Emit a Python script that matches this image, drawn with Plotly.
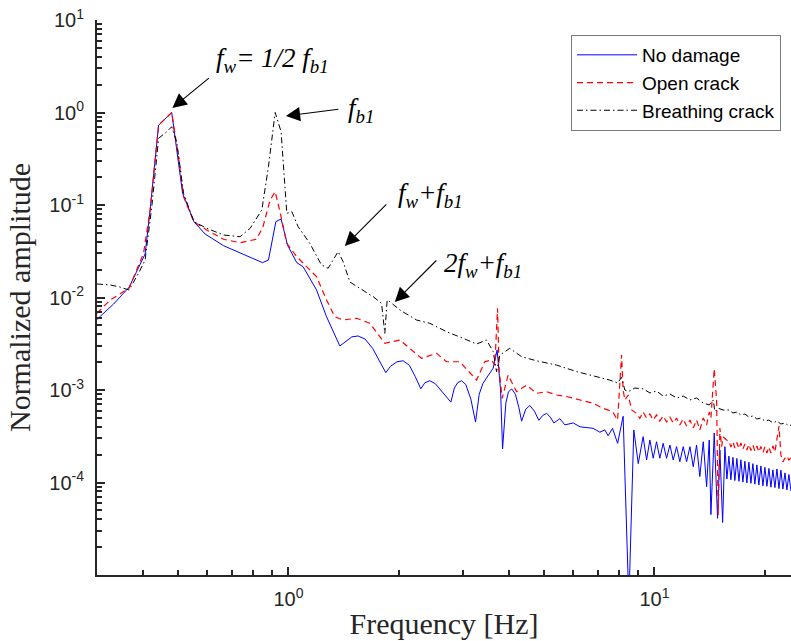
import math
import plotly.graph_objects as go

# ---------------- data ----------------
blue_freq = [0.300, 0.333, 0.367, 0.406, 0.419, 0.442, 0.480, 0.496, 0.514, 0.552, 0.592, 0.665, 0.754, 0.850,
             0.882, 0.924, 0.955, 0.994, 1.054, 1.097, 1.193, 1.271, 1.382, 1.43, 1.49, 1.55, 1.62, 1.70, 1.78,
             1.845, 1.90, 1.98, 2.058, 2.14, 2.22, 2.30, 2.36, 2.434, 2.52, 2.62, 2.71, 2.778, 2.84, 2.90, 2.97,
             3.05, 3.15, 3.245, 3.32, 3.40, 3.52, 3.625, 3.717, 3.798, 3.846, 3.926, 3.99, 4.07, 4.17, 4.26,
             4.335, 4.45, 4.566, 4.70, 4.832, 4.95, 5.073, 5.19, 5.311, 5.515, 5.69, 6.00, 6.26, 6.80, 7.09,
             7.32, 7.47, 7.68, 7.93, 8.21, 8.51, 8.78, 9.03,
             9.31, 9.515, 9.714, 9.919, 10.13, 10.34, 10.56, 10.79, 11.02, 11.25, 11.49, 11.73, 11.98, 12.24,
             12.50, 12.76, 13.03, 13.30, 13.59, 13.88, 14.11, 14.26, 14.56, 14.87, 15.09, 15.35, 15.57,
             15.77, 15.97, 16.17, 16.38, 16.58, 16.79, 17.01, 17.22, 17.44, 17.66, 17.88, 18.11, 18.34, 18.57,
             18.80, 19.04, 19.28, 19.53, 19.78, 20.03, 20.28, 20.54, 20.80, 21.06, 21.33, 21.60, 21.88, 22.15,
             22.43, 22.72, 23.00, 23.29, 23.59]
blue_amp = [5.8e-3, 8.5e-3, 1.29e-2, 2.95e-2, 8.8e-2, 0.73, 1.0, 0.39, 0.134, 0.066, 0.0486, 0.0363, 0.0295,
            0.0238, 0.0254, 0.066, 0.0706, 0.037, 0.0238, 0.0215, 0.0121, 6.2e-3, 2.99e-3, 3.3e-3, 3.75e-3,
            3.84e-3, 3.55e-3, 2.8e-3, 2.0e-3, 1.54e-3, 1.8e-3, 2.02e-3, 2.07e-3, 1.85e-3, 1.4e-3, 1.03e-3,
            1.2e-3, 1.26e-3, 1.17e-3, 0.98e-3, 0.82e-3, 7.4e-4, 1.05e-3, 1.2e-3, 1.26e-3, 1.15e-3, 0.8e-3,
            4.5e-4, 9e-4, 1.18e-3, 1.45e-3, 1.72e-3, 2.71e-3, 1.0e-3, 2.3e-4, 7.2e-4, 9.5e-4, 1.03e-3, 0.9e-3,
            6.5e-4, 4.6e-4, 6.2e-4, 6.8e-4, 5.9e-4, 4.7e-4, 5.3e-4, 5.6e-4, 5.1e-4, 4.4e-4, 4.9e-4, 4.2e-4,
            4.4e-4, 4.0e-4, 3.85e-4, 3.5e-4, 3.7e-4, 3.2e-4, 3.85e-4, 2.65e-4, 5.2e-4, 5e-6, 3.7e-4, 1.6e-4,
            3.13e-4, 1.75e-4, 2.88e-4, 1.83e-4, 2.76e-4, 1.83e-4, 2.65e-4, 1.83e-4, 2.54e-4, 1.75e-4, 2.44e-4,
            1.68e-4, 2.44e-4, 1.68e-4, 2.44e-4, 1.48e-4, 2.54e-4, 1.16e-4, 2.76e-4, 9.0e-5, 2.88e-4, 4.5e-5,
            3.43e-4, 4.1e-5, 2.24e-4, 3.7e-5, 2.44e-4,
            1.09e-4, 1.93e-4, 1.07e-4, 1.87e-4, 1.05e-4, 1.82e-4, 1.03e-4, 1.76e-4, 1.01e-4, 1.70e-4, 0.99e-4,
            1.66e-4, 0.98e-4, 1.60e-4, 0.96e-4, 1.55e-4, 0.94e-4, 1.51e-4, 0.92e-4, 1.46e-4, 0.91e-4, 1.42e-4,
            0.89e-4, 1.37e-4, 0.88e-4, 1.40e-4, 0.86e-4, 1.36e-4, 0.85e-4, 1.27e-4, 0.83e-4, 1.22e-4, 0.81e-4]

red_freq = [0.300, 0.326, 0.367, 0.402, 0.419, 0.442, 0.480, 0.501, 0.517, 0.552, 0.598, 0.665, 0.738, 0.816,
            0.850, 0.891, 0.920, 0.946, 0.990, 1.054, 1.193, 1.271, 1.339, 1.411, 1.535, 1.669, 1.834, 2.016,
            2.31, 2.54, 2.704, 2.94, 3.266, 3.44, 3.59, 3.664, 3.726, 3.764, 3.836, 3.983, 4.20, 4.47, 4.76,
            5.07, 5.40, 5.75, 6.26, 6.80, 7.24, 7.68, 7.93, 8.13, 8.21, 8.30, 8.48, 8.66, 8.93, 9.12,
            9.31, 9.515, 9.714, 9.919, 10.13, 10.34, 10.56, 10.79, 11.02, 11.25, 11.49, 11.73, 11.98, 12.24,
            12.50, 12.76, 13.03, 13.30, 13.59, 13.88, 14.11, 14.26, 14.56, 14.78, 14.93, 15.09, 15.25, 15.41,
            15.74,
            15.97, 16.17, 16.38, 16.58, 16.79, 17.01, 17.22, 17.44, 17.66, 17.88, 18.11, 18.34, 18.57, 18.80,
            19.04, 19.28, 19.53, 19.78, 20.03, 20.28, 20.54, 20.80, 21.06, 21.33, 21.60, 21.88, 22.15, 22.43,
            22.72, 23.00, 23.29, 23.59]
red_amp = [6.75e-3, 9.4e-3, 1.26e-2, 3.0e-2, 8.8e-2, 0.73, 1.0, 0.333, 0.123, 0.066, 0.0537, 0.0426, 0.0391,
           0.0426, 0.056, 0.113, 0.139, 0.0883, 0.0385, 0.0276, 0.0168, 9.4e-3, 6.2e-3, 5.71e-3, 5.96e-3,
           5.26e-3, 3.2e-3, 3.47e-3, 2.2e-3, 2.49e-3, 2.02e-3, 2.02e-3, 1.28e-3, 2.02e-3, 2.11e-3, 1.86e-3,
           7.64e-3, 1.64e-3, 8.1e-4, 1.45e-3, 9.6e-4, 1.13e-3, 9.2e-4, 9.6e-4, 8.83e-4, 8.5e-4, 7.8e-4,
           7.18e-4, 6.34e-4, 5.83e-4, 4.74e-4, 2.39e-3, 1.0e-3, 7.8e-4, 8.83e-4, 6.08e-4, 5.6e-4, 4.94e-4,
           5.78e-4, 4.98e-4, 5.5e-4, 4.74e-4, 5.37e-4, 4.62e-4, 5.24e-4, 4.51e-4, 5.1e-4, 4.4e-4, 4.98e-4,
           4.19e-4, 4.86e-4, 4.08e-4, 4.74e-4, 3.88e-4, 4.74e-4, 3.7e-4, 4.98e-4, 4.19e-4, 5.78e-4, 4.98e-4,
           1.69e-3, 7.8e-4, 4.46e-5, 3.88e-4, 2.44e-4, 3.1e-4, 2.88e-4,
           2.81e-4, 2.42e-4, 2.74e-4, 2.36e-4, 2.71e-4, 2.33e-4, 2.67e-4, 2.30e-4, 2.61e-4, 2.24e-4, 2.58e-4,
           2.22e-4, 2.54e-4, 2.19e-4, 2.48e-4, 2.14e-4, 2.45e-4, 2.11e-4, 2.42e-4, 2.08e-4, 2.42e-4, 2.08e-4,
           2.48e-4, 2.14e-4, 2.88e-4, 4.08e-4, 1.98e-4, 1.67e-4, 1.84e-4, 1.93e-4, 1.75e-4, 1.84e-4]

black_freq = [0.300, 0.326, 0.346, 0.367, 0.3895, 0.406, 0.4235, 0.442, 0.4654, 0.480, 0.496, 0.517, 0.552,
              0.598, 0.665, 0.738, 0.786, 0.846, 0.882, 0.920, 0.955, 0.990, 1.022, 1.063, 1.144, 1.231, 1.284,
              1.367, 1.411, 1.472, 1.567, 1.704, 1.796, 1.834, 1.861, 1.892, 2.016, 2.239, 2.434, 2.704, 3.001,
              3.266, 3.477, 3.625, 3.703, 3.781, 4.026, 4.335, 4.76, 5.40, 6.13, 6.95, 7.55, 7.93, 8.13, 8.30,
              8.48, 8.84,
              9.31, 9.714, 10.13, 10.56, 11.02, 11.49, 11.98, 12.50, 13.03, 13.59, 14.11, 14.47, 14.62, 14.93,
              15.41,
              15.97, 16.38, 16.79, 17.22, 17.66, 18.11, 18.57, 19.04, 19.53, 20.03, 20.54, 21.06, 21.60, 22.15,
              22.72, 23.29, 23.59]
black_amp = [0.014, 0.01365, 0.0130, 0.01205, 0.0183, 0.0254, 0.0959, 0.526, 0.62, 0.702, 0.465, 0.134, 0.066,
             0.056, 0.0474, 0.0454, 0.056, 0.0883, 0.2595, 1.0, 0.62, 0.0813, 0.0847, 0.0583, 0.0385, 0.0225,
             0.0207, 0.0313, 0.0244, 0.0147, 0.01258, 0.0102, 8.66e-3, 4.1e-3, 9.4e-3, 9.0e-3, 7.33e-3, 5.71e-3,
             5.26e-3, 4.27e-3, 3.62e-3, 3.14e-3, 3.47e-3, 2.6e-3, 1.58e-3, 2.39e-3, 2.82e-3, 2.29e-3, 2.07e-3,
             1.86e-3, 1.58e-3, 1.39e-3, 1.28e-3, 1.19e-3, 1.37e-3, 1.0e-3, 9.6e-4, 1.05e-3,
             1.03e-3, 9.3e-4, 9.75e-4, 8.6e-4, 9.05e-4, 8.2e-4, 8.6e-4, 7.8e-4, 8.2e-4, 7.24e-4, 6.89e-4,
             7.8e-4, 5.83e-4, 6.34e-4, 6.08e-4,
             6.08e-4, 5.64e-4, 5.78e-4, 5.37e-4, 5.5e-4, 5.1e-4, 5.24e-4, 4.86e-4, 4.98e-4, 4.62e-4, 4.74e-4,
             4.4e-4, 4.62e-4, 4.29e-4, 4.4e-4, 4.08e-4, 4.19e-4]

series_names = ["No damage", "Open crack", "Breathing crack"]

# major (labelled) ticks and minor (unlabelled) ticks
x_major = [1, 10]
x_major_text = ["10<sup>0</sup>", "10<sup>1</sup>"]
x_minor = [0.4, 0.5, 0.6, 0.7, 0.8, 0.9, 2, 3, 4, 5, 6, 7, 8, 9, 20]
y_major = [1e-4, 1e-3, 1e-2, 1e-1, 1, 10]
y_major_text = ["10<sup>-4</sup>", "10<sup>-3</sup>", "10<sup>-2</sup>", "10<sup>-1</sup>",
                "10<sup>0</sup>", "10<sup>1</sup>"]
y_minor = [m * 10.0 ** e for e in range(-5, 1) for m in range(2, 10)]

# annotation labels and the points (Hz, amplitude) their arrows touch
ann_text = ["<i>f<sub>w</sub>= 1/2 f<sub>b1</sub></i>", "<i>f<sub>b1</sub></i>",
            "<i>f<sub>w</sub>+f<sub>b1</sub></i>", "<i>2f<sub>w</sub>+f<sub>b1</sub></i>"]
ann_head_freq = [0.482, 0.984, 1.426, 1.953]
ann_head_amp = [1.12, 0.917, 0.0361, 0.00894]

# ---------------- figure ----------------
AXC = "#262626"
XR = [math.log10(0.3), math.log10(23.6)]
YR = [-5, 1]
fig = go.Figure()
fig.add_trace(go.Scatter(x=blue_freq, y=blue_amp, mode="lines", name=series_names[0],
                         line=dict(color="#0000ff", width=1)))
fig.add_trace(go.Scatter(x=red_freq, y=red_amp, mode="lines", name=series_names[1],
                         line=dict(color="#ff0000", width=1.2, dash="6px,4px")))
fig.add_trace(go.Scatter(x=black_freq, y=black_amp, mode="lines", name=series_names[2],
                         line=dict(color="#000000", width=1, dash="6px,3px,1.5px,3px")))
# empty trace so that the overlay axes carrying the minor ticks get drawn
fig.add_trace(go.Scatter(x=[], y=[], xaxis="x2", yaxis="y2", showlegend=False, hoverinfo="skip"))

tickfont = dict(family="Arial, Liberation Sans, sans-serif", size=20, color=AXC)
titlefont = dict(family="Times New Roman, Liberation Serif, serif", size=30, color=AXC)

fig.update_layout(
    xaxis=dict(type="log", range=XR,
               showline=True, linecolor=AXC, linewidth=2, mirror=False, showgrid=False, zeroline=False,
               ticks="inside", ticklen=8, tickwidth=1.5, tickcolor=AXC,
               tickmode="array", tickvals=x_major, ticktext=x_major_text, tickfont=tickfont,
               ticklabelstandoff=5,
               title=dict(text="Frequency [Hz]", font=titlefont, standoff=4)),
    yaxis=dict(type="log", range=YR,
               showline=True, linecolor=AXC, linewidth=2, mirror=False, showgrid=False, zeroline=False,
               ticks="inside", ticklen=8, tickwidth=1.5, tickcolor=AXC,
               tickmode="array", tickvals=y_major, ticktext=y_major_text, tickfont=tickfont,
               ticklabelstandoff=7,
               title=dict(text="Normalized amplitude", font=titlefont, standoff=10)),
    xaxis2=dict(type="log", range=XR, overlaying="x", anchor="y", side="bottom",
                showline=False, showgrid=False, zeroline=False, showticklabels=False,
                ticks="inside", ticklen=5, tickwidth=1.5, tickcolor=AXC,
                tickmode="array", tickvals=x_minor),
    yaxis2=dict(type="log", range=YR, overlaying="y", anchor="x", side="left",
                showline=False, showgrid=False, zeroline=False, showticklabels=False,
                ticks="inside", ticklen=5, tickwidth=1.5, tickcolor=AXC,
                tickmode="array", tickvals=y_minor),
)

# arrows
arrow_offsets = [(38, -31), (54, -7), (43, -43), (43, -43)]
for hf, ha, (ax, ay) in zip(ann_head_freq, ann_head_amp, arrow_offsets):
    fig.add_annotation(x=math.log10(hf), y=math.log10(ha), xref="x", yref="y", text="",
                       showarrow=True, ax=ax, ay=ay, arrowhead=2, arrowsize=2.6, arrowwidth=1.1,
                       arrowcolor="#000000")
# labels
label_pos = [(0.2522, 0.928), (0.380, 0.838), (0.480, 0.685), (0.556, 0.559)]
for txt, (px, py) in zip(ann_text, label_pos):
    fig.add_annotation(x=px, y=py, xref="paper", yref="paper", text=txt, showarrow=False,
                       xanchor="center", yanchor="middle",
                       font=dict(family="Times New Roman, Liberation Serif, serif", size=27, color="#000000"))

fig.update_layout(width=791, height=641, margin=dict(l=97, r=0, t=20, b=66),
                  plot_bgcolor="white", paper_bgcolor="white",
                  legend=dict(x=0.9856, y=0.973, xanchor="right", yanchor="top", itemwidth=60,
                              bgcolor="white", bordercolor="#7a7a7a", borderwidth=1,
                              font=dict(family="Arial, Liberation Sans, sans-serif", size=19, color="#000000")))

fig.write_html("out.html")
